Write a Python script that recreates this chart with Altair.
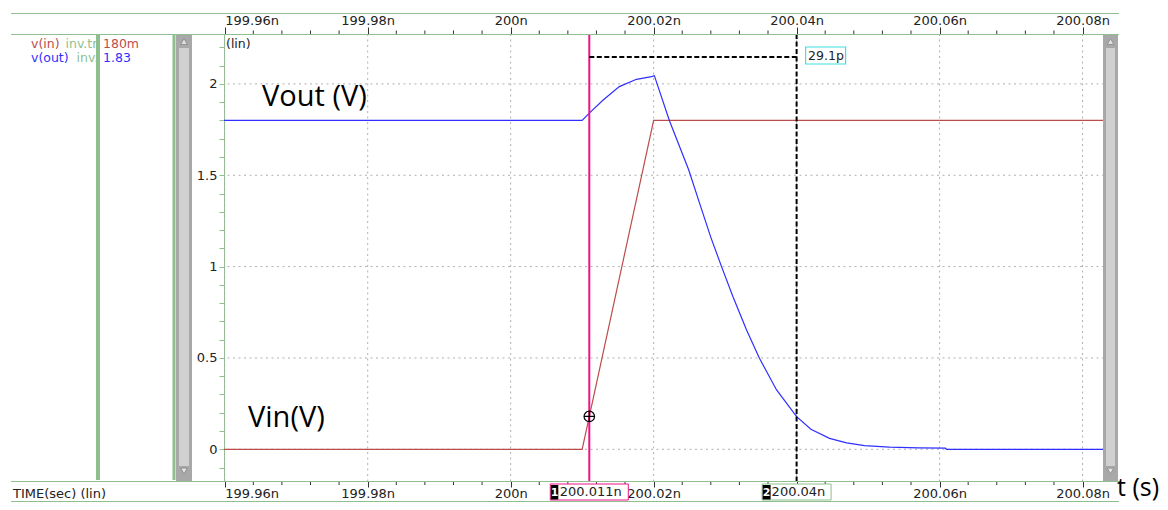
import altair as alt
import pandas as pd

# ---------------- data (time in ps relative to 200 ns, voltage in V) ----------------
vin_t = [-40.1, 10.0, 20.0, 83.0]
vin_v = [0.0, 0.0, 1.8, 1.8]

vout_t = [-40.1, 10.0, 11.0, 12.9, 15.2, 17.6, 19.7, 20.1, 22.2, 24.9, 26.4, 28.0,
          29.5, 31.1, 33.0, 34.8, 37.2, 40.0, 42.0, 44.6, 47.0, 49.5, 53.0, 57.0,
          60.8, 61.0, 83.0]
vout_v = [1.80, 1.80, 1.84, 1.91, 1.985, 2.025, 2.04, 2.045, 1.80, 1.53, 1.35, 1.16,
          1.00, 0.835, 0.653, 0.498, 0.325, 0.179, 0.11, 0.06, 0.035, 0.02, 0.012, 0.008,
          0.006, 0.0, 0.0]

major_ticks = [-40, -20, 0, 20, 40, 60, 80]
minor_ticks = [-36, -32, -28, -24, -16, -12, -8, -4, 4, 8, 12, 16, 24, 28, 32, 36,
               44, 48, 52, 56, 64, 68, 72, 76]
y_ticks = [-0.1, 0.0, 0.1, 0.2, 0.3, 0.4, 0.5, 0.6, 0.7, 0.8, 0.9, 1.0, 1.1, 1.2,
           1.3, 1.4, 1.5, 1.6, 1.7, 1.8, 1.9, 2.0, 2.1, 2.2]
y_grid = [0.0, 0.5, 1.0, 1.5, 2.0]

cursor1_t = 11.0      # 200.011n
cursor2_t = 40.0      # 200.04n
delta_v = 2.147       # level of the delta measurement line
cross_v = 0.18        # vin at cursor 1

# ---------------- styling ----------------
W, H = 880, 447
RED = "#bc4c4c"
BLUE = "#2f2fff"
MAG = "#ee1289"
GREEN = "#8fbf8f"
FONT = "DejaVu Sans"
ANN_FONT = "Open Sans"

xs = alt.Scale(domain=[-40.1, 83.0], nice=False, zero=False)
ys = alt.Scale(domain=[-0.1735, 2.273], nice=False, zero=False)

label_expr = "datum.value == 0 ? '200n' : format(200 + datum.value/1000, '.2f') + 'n'"

def X(field="t", axis=None):
    return alt.X(f"{field}:Q", scale=xs, axis=axis, title=None)

def Y(field="v", axis=None):
    return alt.Y(f"{field}:Q", scale=ys, axis=axis, title=None)

def px(x):
    return x - 224

def py(y):
    return y - 34

one = pd.DataFrame({"a": [0]})

def prect(x1, x2, y1, y2, color, stroke=None):
    kw = dict(color=color)
    if stroke:
        kw = dict(fill=color, stroke=stroke, strokeWidth=1)
    return alt.Chart(one).mark_rect(**kw).encode(
        x=alt.value(px(x1)), x2=alt.value(px(x2)), y=alt.value(py(y1)), y2=alt.value(py(y2)))

def pline(x1, x2, y1, y2, color, width=1):
    return alt.Chart(one).mark_rule(color=color, strokeWidth=width).encode(
        x=alt.value(px(x1)), x2=alt.value(px(x2)), y=alt.value(py(y1)), y2=alt.value(py(y2)))

def ptext(x, y, s, color="#222", size=12.5, font=FONT, align="left"):
    return alt.Chart(one).mark_text(text=s, color=color, fontSize=size, font=font,
                                    align=align, baseline="middle").encode(
        x=alt.value(px(x)), y=alt.value(py(y)))

def ptri(x, y, shape):
    return alt.Chart(one).mark_point(shape=shape, filled=True, size=45, fill="#e4e4e4",
                                     stroke="#909090", strokeWidth=1, opacity=1).encode(
        x=alt.value(px(x)), y=alt.value(py(y)))

# ---------------- data frames ----------------
vin_df = pd.DataFrame({"t": vin_t, "v": vin_v})
vout_df = pd.DataFrame({"t": vout_t, "v": vout_v})
major_df = pd.DataFrame({"t": major_ticks})
minor_df = pd.DataFrame({"t": minor_ticks})
ygrid_df = pd.DataFrame({"v": y_grid})
c1_df = pd.DataFrame({"t": [cursor1_t], "v": [cross_v]})
c2_df = pd.DataFrame({"t": [cursor2_t]})
delta_df = pd.DataFrame({"t": [cursor1_t], "t2": [cursor2_t], "v": [delta_v]})

# ---------------- layers ----------------
top_axis = alt.Axis(orient="top", values=major_ticks, tickSize=7, tickColor="#333",
                    domain=False, grid=False, labelExpr=label_expr, labelFontSize=13,
                    labelFont=FONT, labelColor="#222", labelPadding=0, labelFlush=3)
bottom_axis = alt.Axis(orient="bottom", values=major_ticks, tickSize=6, tickColor="#333",
                       domain=False, grid=False, labelExpr=label_expr, labelFontSize=13,
                       labelFont=FONT, labelColor="#222", labelPadding=0, labelFlush=3)
left_axis = alt.Axis(orient="left", values=[round(v, 1) for v in y_ticks], tickSize=5,
                     tickColor=GREEN, domainColor=GREEN, grid=False,
                     labelExpr="abs(datum.value*2 - round(datum.value*2)) < 0.01 ? format(datum.value, '~g') : ''",
                     labelFontSize=13, labelFont=FONT, labelColor="#222", labelPadding=2)

xgrid = alt.Chart(major_df).mark_rule(color="#b0b0b0", strokeDash=[2, 3.5], strokeWidth=1).encode(
    x=X(axis=top_axis))
ygrid = alt.Chart(ygrid_df).mark_rule(color="#b0b0b0", strokeDash=[2, 3.5], strokeWidth=1).encode(
    y=Y(axis=left_axis))

minor_top = alt.Chart(minor_df).mark_rule(color="#333").encode(
    x=X(), y=alt.value(-3.5), y2=alt.value(0))
minor_bot = alt.Chart(minor_df).mark_rule(color="#333").encode(
    x=X(), y=alt.value(H + 0.5), y2=alt.value(H + 4))

vin_line = alt.Chart(vin_df).mark_line(color=RED, strokeWidth=1.2).encode(
    x=X(axis=bottom_axis), y=Y(), order="t:Q")
vout_line = alt.Chart(vout_df).mark_line(color=BLUE, strokeWidth=1.2).encode(
    x=X(), y=Y(), order="t:Q")

cur1 = alt.Chart(c1_df).mark_rule(color=MAG, strokeWidth=2).encode(x=X())
cur2 = alt.Chart(c2_df).mark_rule(color="black", strokeWidth=2, strokeDash=[5, 2.5]).encode(x=X())
delta_line = alt.Chart(delta_df).mark_rule(color="black", strokeWidth=2, strokeDash=[5, 2.5]).encode(
    x=X(), x2="t2:Q", y=Y())

cross_circle = alt.Chart(c1_df).mark_point(shape="circle", size=110, filled=False,
                                           stroke="black", strokeWidth=1.2, opacity=1).encode(x=X(), y=Y())
cross_plus = alt.Chart(c1_df).mark_point(shape="M-1,0L1,0M0,-1L0,1", size=110, filled=False,
                                         stroke="black", strokeWidth=1.2, opacity=1).encode(x=X(), y=Y())

# cursor tags at the bottom axis
tag1_box = alt.Chart(c1_df).mark_rect(fill="white", stroke=MAG, strokeWidth=1,
                                      xOffset=-39, x2Offset=39).encode(
    x=X(), x2="t:Q", y=alt.value(py(484)), y2=alt.value(py(500)))
tag1_num = alt.Chart(c1_df).mark_rect(color="black", xOffset=-38.5, x2Offset=-31).encode(
    x=X(), x2="t:Q", y=alt.value(py(485)), y2=alt.value(py(499.5)))
tag1_n = alt.Chart(c1_df).mark_text(text="1", color="white", fontSize=11, font=FONT,
                                    fontWeight="bold", dx=-34.7, baseline="middle").encode(
    x=X(), y=alt.value(py(492.5)))
tag1_t = alt.Chart(c1_df).mark_text(text="200.011n", color="#222", fontSize=13, font=FONT,
                                    align="left", dx=-29.5, baseline="middle").encode(
    x=X(), y=alt.value(py(492)))

tag2_box = alt.Chart(c2_df).mark_rect(fill="white", stroke=GREEN, strokeWidth=1,
                                      xOffset=-34.5, x2Offset=34.5).encode(
    x=X(), x2="t:Q", y=alt.value(py(484)), y2=alt.value(py(500)))
tag2_num = alt.Chart(c2_df).mark_rect(color="black", xOffset=-34, x2Offset=-26).encode(
    x=X(), x2="t:Q", y=alt.value(py(485)), y2=alt.value(py(499.5)))
tag2_n = alt.Chart(c2_df).mark_text(text="2", color="white", fontSize=11, font=FONT,
                                    fontWeight="bold", dx=-30, baseline="middle").encode(
    x=X(), y=alt.value(py(492.5)))
tag2_t = alt.Chart(c2_df).mark_text(text="200.04n", color="#222", fontSize=13, font=FONT,
                                    align="left", dx=-25, baseline="middle").encode(
    x=X(), y=alt.value(py(492)))

dbox = alt.Chart(c2_df).mark_rect(fill="white", stroke="#3fe0e0", strokeWidth=1.2,
                                  xOffset=9, x2Offset=49).encode(
    x=X(), x2="t:Q", y=alt.value(py(47)), y2=alt.value(py(64)))
dtext = alt.Chart(c2_df).mark_text(text="29.1p", color="#222", fontSize=12.5, font=FONT,
                                   align="left", dx=11.5, baseline="middle").encode(
    x=X(), y=alt.value(py(55.5)))

# ---------------- UI chrome ----------------
chrome = [
    # legend texts
    ptext(31, 43.5, "v(in)", RED), ptext(65.5, 43.5, "inv.tr", GREEN), ptext(103, 43.5, "180m", RED),
    ptext(31, 57.5, "v(out)", BLUE), ptext(76.5, 57.5, "inv.", GREEN), ptext(103, 57.5, "1.83", BLUE),
    # left green bars and scrollbar
    prect(96, 100, 35, 480, GREEN), prect(172.5, 175.5, 35, 480, GREEN),
    prect(176, 192, 35, 481, "#a8a8a8"), prect(179, 189, 48, 466, "#d0d0d0"),
    ptri(184, 41.5, "triangle-up"), ptri(184, 471, "triangle-down"),
    # right scrollbar
    prect(1103, 1118, 35, 481, "#a8a8a8"), prect(1106, 1115, 48, 466, "#d0d0d0"),
    ptri(1110.5, 41.5, "triangle-up"), ptri(1110.5, 471, "triangle-down"),
    # frame lines
    pline(11, 1119, 13.5, 13.5, GREEN), pline(11, 1119, 34.5, 34.5, GREEN),
    pline(11, 1119, 481.5, 481.5, GREEN), pline(11, 1119, 501.5, 501.5, GREEN),
    # texts
    ptext(226, 43.5, "(lin)", "#222", 12.5),
    ptext(13, 494, "TIME(sec) (lin)", "#222", 13),
    ptext(262, 97, "Vout (V)", "black", 29, ANN_FONT),
    ptext(248, 418, "Vin(V)", "black", 29, ANN_FONT),
    ptext(1117, 488, "t (s)", "black", 25, ANN_FONT),
]

layers = [xgrid, ygrid, minor_top, minor_bot, vin_line, vout_line,
          cur1, cur2, delta_line, cross_circle, cross_plus,
          tag1_box, tag1_num, tag1_n, tag1_t, tag2_box, tag2_num, tag2_n, tag2_t,
          dbox, dtext] + chrome

chart = alt.layer(*layers).resolve_axis(x="independent", y="independent").properties(
    width=W, height=H,
    padding={"left": 216, "top": 26, "right": 56, "bottom": 21},
    autosize=alt.AutoSizeParams(type="none"),
    background="white",
).configure_view(stroke=None)

chart.save("out.html", embed_options={"renderer": "svg", "actions": False})
